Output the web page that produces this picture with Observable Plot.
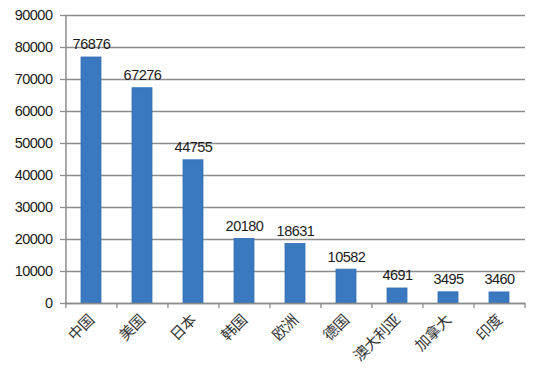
<!DOCTYPE html>
<html>
<head>
<meta charset="utf-8">
<script src="https://cdn.jsdelivr.net/npm/d3@7"></script>
<script src="https://cdn.jsdelivr.net/npm/@observablehq/plot@0.6"></script>
<style>
  html, body { margin: 0; padding: 0; background: #fff; }
  #chart { width: 560px; height: 372px; }
</style>
</head>
<body>
<div id="chart"></div>
<script>
const categories = ["中国", "美国", "日本", "韩国", "欧洲", "德国", "澳大利亚", "加拿大", "印度"];
const values = [76876, 67276, 44755, 20180, 18631, 10582, 4691, 3495, 3460];
const yTicks = [0, 10000, 20000, 30000, 40000, 50000, 60000, 70000, 80000, 90000];

const data = categories.map((c, i) => ({ category: c, value: values[i] }));

const W = 560, H = 372, ML = 65, MR = 35, MT = 15, MB = 69;
const bw = (W - ML - MR) / categories.length;
const numFont = "'Liberation Sans', Arial, sans-serif";

const chart = Plot.plot({
  width: W,
  height: H,
  marginLeft: ML,
  marginRight: MR,
  marginTop: MT,
  marginBottom: MB,
  style: { fontFamily: numFont, background: "#fff", color: "#222" },
  x: { domain: categories, paddingInner: 0.6, paddingOuter: 0.3, align: 0.5 },
  y: { domain: [0, 90000] },
  marks: [
    Plot.gridY(yTicks, { stroke: "#8c8c8c", strokeOpacity: 1, strokeWidth: 1.3 }),
    Plot.axisY(yTicks, {
      tickSize: 5, tickPadding: 8, stroke: "#8c8c8c", strokeWidth: 1.3,
      fontSize: 14.5, fill: "#1a1a1a", label: null, tickFormat: d => String(d)
    }),
    Plot.barY(data, { x: "category", y: "value", fill: "#3a78c0", stroke: "#3270b6", strokeWidth: 0.8 }),
    Plot.ruleY([0], { stroke: "#8c8c8c", strokeWidth: 1.5 }),
    Plot.ruleX([categories[0]], { x: d => d, dx: -bw / 2, stroke: "#8c8c8c", strokeWidth: 1.5 }),
    Plot.ruleX(categories, { x: d => d, dx: -bw / 2, y1: 0, y2: 0, insetTop: 5, stroke: "#8c8c8c", strokeWidth: 1.3 }),
    Plot.ruleX([categories[categories.length - 1]], { x: d => d, dx: bw / 2, y1: 0, y2: 0, insetTop: 5, stroke: "#8c8c8c", strokeWidth: 1.3 }),
    Plot.text(data, {
      x: "category", y: "value", text: d => String(d.value),
      lineAnchor: "bottom", dy: -8, fontSize: 14.5, fill: "#1a1a1a", fontFamily: numFont
    }),
    Plot.axisX({
      tickSize: 0, tickPadding: 14, tickRotate: -45, fontSize: 15, fill: "#333",
      fontFamily: "'Noto Sans CJK SC', sans-serif", dx: 0, label: null
    })
  ]
});
chart.querySelectorAll("text").forEach(t => t.style.letterSpacing = "-0.5px");
document.getElementById("chart").appendChild(chart);
</script>
</body>
</html>
